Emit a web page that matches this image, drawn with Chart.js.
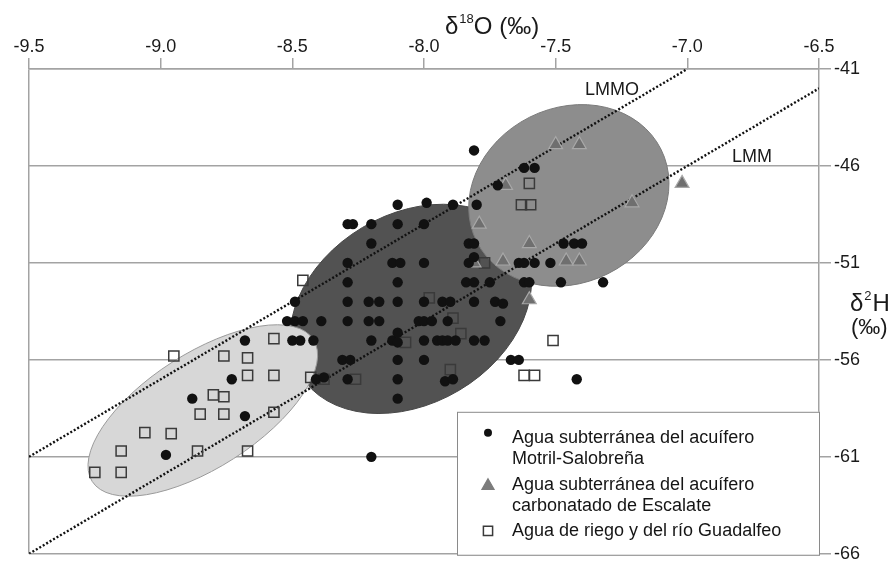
<!DOCTYPE html>
<html>
<head>
<meta charset="utf-8">
<script src="https://cdn.jsdelivr.net/npm/chart.js@4.4.1/dist/chart.umd.min.js"></script>
<style>
  body { margin: 0; background: #fff; }
  canvas { display: block; }
</style>
</head>
<body>
<canvas id="isotopes" width="894" height="563"></canvas>
<script>
// Agua subterránea del acuífero Motril-Salobreña (rows of equal d2H)
var motrilX = [
  -7.81,
  -7.62, -7.58,
  -7.72,
  -8.10, -7.99, -7.89, -7.80,
  -8.29, -8.27, -8.20, -8.10, -8.00,
  -8.20, -7.83, -7.81, -7.47, -7.43, -7.40,
  -8.29, -8.12, -8.09, -8.00, -7.83, -7.81, -7.64, -7.62, -7.58, -7.52,
  -8.29, -8.10, -7.84, -7.81, -7.75, -7.62, -7.60, -7.48, -7.32,
  -8.49, -8.29, -8.21, -8.17, -8.10, -8.00, -7.93, -7.90, -7.81, -7.73, -7.70,
  -8.52, -8.49, -8.46, -8.39, -8.29, -8.21, -8.17, -8.02, -8.00, -7.97, -7.91, -7.71,
  -8.68, -8.50, -8.47, -8.42, -8.20, -8.12, -8.10, -8.10, -8.00, -7.95, -7.93, -7.91, -7.88, -7.81, -7.77,
  -8.31, -8.28, -8.10, -8.00, -7.67, -7.64,
  -8.73, -8.41, -8.38, -8.29, -8.10, -7.92, -7.89, -7.42,
  -8.88, -8.10,
  -8.68,
  -8.98, -8.20
];
var motrilY = [
  -45.2,
  -46.1, -46.1,
  -47,
  -48, -47.9, -48, -48,
  -49, -49, -49, -49, -49,
  -50, -50, -50, -50, -50, -50,
  -51, -51, -51, -51, -51, -50.7, -51, -51, -51, -51,
  -52, -52, -52, -52, -52, -52, -52, -52, -52,
  -53, -53, -53, -53, -53, -53, -53, -53, -53, -53, -53.1,
  -54, -54, -54, -54, -54, -54, -54, -54, -54, -54, -54, -54,
  -55, -55, -55, -55, -55, -55, -55.1, -54.6, -55, -55, -55, -55, -55, -55, -55,
  -56, -56, -56, -56, -56, -56,
  -57, -57, -56.9, -57, -57, -57.1, -57, -57,
  -58, -58,
  -58.9,
  -60.9, -61
];

// Agua subterránea del acuífero carbonatado de Escalate
var escalateX = [-7.50, -7.41, -7.69, -7.21, -7.79, -7.60, -7.81, -7.70, -7.46, -7.41, -7.60, -7.02];
var escalateY = [-44.9, -44.9, -47.0, -47.9, -49.0, -50.0, -51.0, -50.9, -50.9, -50.9, -52.9, -46.9];

// Agua de riego y del río Guadalfeo
var riegoX = [-8.46, -8.57, -8.95, -8.76, -8.67, -8.67, -8.57, -8.43, -8.38, -8.26, -8.80, -8.76,
  -8.85, -8.76, -8.57, -9.06, -8.96, -9.15, -8.86, -8.67, -9.25, -9.15,
  -7.60, -7.63, -7.595, -7.77, -7.98, -7.89, -7.86, -8.07, -7.51, -7.90, -7.62, -7.58];
var riegoY = [-51.9, -54.9, -55.8, -55.8, -55.9, -56.8, -56.8, -56.9, -57.0, -57.0, -57.8, -57.9,
  -58.8, -58.8, -58.7, -59.75, -59.8, -60.7, -60.7, -60.7, -61.8, -61.8,
  -46.9, -48.0, -48.0, -51.0, -52.8, -53.85, -54.65, -55.1, -55.0, -56.5, -56.8, -56.8];

// meteoric water lines (end points)
var lmmoX = [-9.5, -7.0];
var lmmoY = [-61, -41];
var lmmX = [-9.5, -6.5];
var lmmY = [-66, -42];

// group ellipses: centre, end of the long axis, short/long ratio
var ellCx = [-8.05, -8.84, -7.45];
var ellCy = [-53.37, -58.61, -47.52];
var ellMx = [-7.63, -8.42, -7.10];
var ellMy = [-49.98, -54.95, -45.14];
var ellRatio = [0.736, 0.435, 0.849];

var legendLines = [
  ['Agua subterránea del acuífero', 'Motril-Salobreña'],
  ['Agua subterránea del acuífero', 'carbonatado de Escalate'],
  ['Agua de riego y del río Guadalfeo']
];

function pts(xs, ys) {
  return xs.map(function (x, i) { return { x: x, y: ys[i] }; });
}

var FONT = "'Liberation Sans', Arial, Helvetica, sans-serif";
var GRID = '#a3a3a3';
var ellFill = ['#525252', '#d7d7d7', '#8d8d8d'];
var ellLine = ['#474747', '#9a9a9a', '#7a7a7a'];

var ellipses = {
  id: 'ellipses',
  beforeDatasetsDraw: function (chart) {
    var ctx = chart.ctx, x = chart.scales.x, y = chart.scales.y;
    ctx.save();
    for (var i = 0; i < ellCx.length; i++) {
      var cx = x.getPixelForValue(ellCx[i]), cy = y.getPixelForValue(ellCy[i]);
      var mx = x.getPixelForValue(ellMx[i]) - cx, my = y.getPixelForValue(ellMy[i]) - cy;
      var a = Math.hypot(mx, my);
      ctx.beginPath();
      ctx.ellipse(cx, cy, a, a * ellRatio[i], Math.atan2(my, mx), 0, Math.PI * 2);
      ctx.fillStyle = ellFill[i];
      ctx.fill();
      ctx.lineWidth = 1;
      ctx.strokeStyle = ellLine[i];
      ctx.stroke();
    }
    ctx.restore();
  }
};

var annotations = {
  id: 'annotations',
  afterDraw: function (chart) {
    var ctx = chart.ctx, x = chart.scales.x, y = chart.scales.y, area = chart.chartArea;
    ctx.save();
    ctx.fillStyle = '#1a1a1a';
    ctx.textBaseline = 'middle';
    ctx.textAlign = 'center';
    ctx.font = '18px ' + FONT;
    ctx.fillText('LMMO', x.getPixelForValue(-7.286), y.getPixelForValue(-42.08));
    ctx.fillText('LMM', x.getPixelForValue(-6.754), y.getPixelForValue(-45.52));

    // top axis title  δ18O (‰)
    ctx.textAlign = 'left';
    var tx = 445, ty = 27;
    ctx.font = '24px ' + FONT;
    ctx.fillText('δ', tx, ty);
    tx += ctx.measureText('δ').width + 1;
    ctx.font = '13px ' + FONT;
    ctx.fillText('18', tx, ty - 8);
    tx += ctx.measureText('18').width;
    ctx.font = '24px ' + FONT;
    ctx.fillText('O (‰)', tx, ty);

    // right axis title  δ2H (‰)
    tx = 850; ty = 304;
    ctx.fillText('δ', tx, ty);
    tx += ctx.measureText('δ').width + 1;
    ctx.font = '13px ' + FONT;
    ctx.fillText('2', tx, ty - 8);
    tx += ctx.measureText('2').width + 1;
    ctx.font = '24px ' + FONT;
    ctx.fillText('H', tx, ty);
    ctx.font = '22px ' + FONT;
    ctx.fillText('(‰)', 851, 328);

    // legend box
    var L = area.right - 362, T = area.bottom - 142;
    ctx.fillStyle = '#fff';
    ctx.fillRect(L, T, 362, 143);
    ctx.strokeStyle = '#8a8a8a';
    ctx.lineWidth = 1;
    ctx.strokeRect(L + 0.5, T + 0.5, 362, 143);

    var rows = [[21, 26], [74, 73], [119, 119]];
    chart.data.datasets.slice(0, 3).forEach(function (ds, i) {
      ctx.fillStyle = i === 1 ? '#7c7c7c' : ds.backgroundColor;
      ctx.strokeStyle = i === 1 ? '#7c7c7c' : ds.borderColor;
      ctx.lineWidth = ds.borderWidth;
      Chart.helpers.drawPoint(ctx, {
        pointStyle: ds.pointStyle,
        radius: ds.legendRadius,
        rotation: 0,
        borderWidth: ds.borderWidth
      }, L + 31, T + rows[i][0]);
      ctx.fillStyle = '#151515';
      ctx.font = '18px ' + FONT;
      legendLines[i].forEach(function (t, j) {
        ctx.fillText(t, L + 55, T + rows[i][1] + j * 21);
      });
    });
    ctx.restore();
  }
};

var chart = new Chart(document.getElementById('isotopes').getContext('2d'), {
  type: 'scatter',
  data: {
    datasets: [{
      label: 'Motril-Salobreña',
      data: pts(motrilX, motrilY),
      pointStyle: 'circle',
      pointRadius: 5.2,
      legendRadius: 4,
      backgroundColor: '#111111',
      borderColor: '#111111',
      borderWidth: 0,
      order: 0
    }, {
      label: 'Escalate',
      data: pts(escalateX, escalateY),
      pointStyle: 'triangle',
      pointRadius: 8,
      legendRadius: 7,
      backgroundColor: '#6f6f6f',
      borderColor: '#a8a8a8',
      borderWidth: 1.2,
      order: 1
    }, {
      label: 'Riego y Guadalfeo',
      data: pts(riegoX, riegoY),
      pointStyle: 'rect',
      pointRadius: 7.2,
      legendRadius: 6.5,
      backgroundColor: 'rgba(0,0,0,0)',
      borderColor: '#3a3a3a',
      borderWidth: 1.5,
      order: 2
    }, {
      label: 'LMMO',
      data: pts(lmmoX, lmmoY),
      showLine: true,
      pointRadius: 0,
      borderColor: '#111111',
      borderWidth: 2.4,
      borderDash: [2, 2],
      order: 3
    }, {
      label: 'LMM',
      data: pts(lmmX, lmmY),
      showLine: true,
      pointRadius: 0,
      borderColor: '#111111',
      borderWidth: 2.4,
      borderDash: [2, 2],
      order: 4
    }]
  },
  options: {
    responsive: false,
    animation: false,
    layout: { padding: { left: 29, bottom: 7, top: 0, right: 0 } },
    plugins: { legend: { display: false }, tooltip: { enabled: false } },
    scales: {
      x: {
        type: 'linear',
        position: 'top',
        min: -9.5,
        max: -6.5,
        ticks: {
          stepSize: 0.5,
          autoSkip: false,
          maxRotation: 0,
          padding: 0,
          color: '#1a1a1a',
          font: { family: FONT, size: 18 },
          callback: function (v) { return v.toFixed(1); }
        },
        grid: {
          color: function (c) { return c.index === 0 ? GRID : 'rgba(0,0,0,0)'; },
          tickColor: GRID,
          lineWidth: 1.5,
          tickLength: 11
        },
        border: { display: true, color: GRID, width: 1.5 },
        afterFit: function (s) { s.height = 69; s.paddingLeft = 0; s.paddingRight = 0; }
      },
      y: {
        type: 'linear',
        position: 'right',
        min: -66,
        max: -41,
        ticks: {
          stepSize: 5,
          padding: 3,
          color: '#1a1a1a',
          font: { family: FONT, size: 18 }
        },
        grid: { color: GRID, lineWidth: 1.5, tickLength: 12 },
        border: { display: true, color: GRID, width: 1.5 },
        afterFit: function (s) { s.width = 75; s.paddingTop = 0; s.paddingBottom = 0; }
      }
    }
  },
  plugins: [ellipses, annotations]
});
</script>
</body>
</html>
